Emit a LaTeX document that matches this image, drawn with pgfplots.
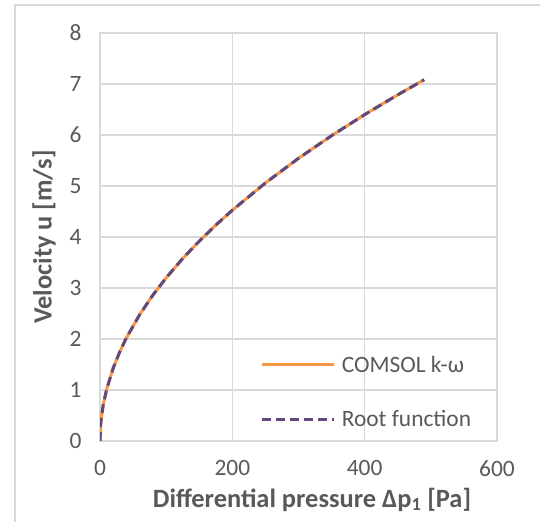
\documentclass[border=0pt]{standalone}
\usepackage{fontspec}
\setmainfont{Carlito}
\usepackage{pgfplots}
\pgfplotsset{compat=1.18}
\definecolor{gridgray}{HTML}{D9D9D9}
\definecolor{txtgray}{HTML}{595959}
\definecolor{orng}{HTML}{F79646}
\definecolor{purp}{HTML}{604A7B}
\begin{document}
\begin{tikzpicture}
\useasboundingbox (0bp,0bp) rectangle (540bp,522bp);
\draw[gridgray, line width=1.5bp] (15bp,-5bp) -- (15bp,517bp) -- (545bp,517bp);
\begin{axis}[
  at={(100bp,81bp)}, anchor=south west,
  scale only axis, width=397bp, height=408bp,
  xmin=0, xmax=600, ymin=0, ymax=8,
  xtick={0,200,400,600}, ytick={0,1,...,8},
  grid=major,
  major grid style={gridgray, line width=1.2bp},
  axis line style={gridgray, line width=1.2bp},
  tick style={draw=none},
  /pgf/number format/assume math mode=true,
  tick label style={font=\fontsize{23.5}{27}\selectfont, text=txtgray},
  xticklabel style={yshift=-16bp},
  yticklabel style={xshift=-15bp},
  xlabel={Differential pressure Δp\textsubscript{1} [Pa]},
  ylabel={Velocity u [m/s]},
  label style={font=\bfseries\fontsize{26.5}{30}\selectfont, text=txtgray},
  xlabel style={at={(axis description cs:0.534,-0.162)}, anchor=base},
  ylabel style={at={(axis description cs:-0.141,0.5)}, anchor=center, rotate=0},
  legend cell align=left,
  legend style={draw=none, fill=none, font=\fontsize{23.5}{27}\selectfont, text=txtgray,
    at={(axis description cs:0.397,0.219)}, anchor=north west, row sep=33bp,
    /tikz/every odd column/.append style={column sep=4bp}},
  legend image code/.code={\draw[#1] (0bp,0bp) -- (72bp,0bp);},
]
\addplot[orng, line width=3bp] coordinates {
(0,0) (1,0.32) (2,0.453) (5,0.716) (10,1.012) (20,1.431) (30,1.753) (40,2.024)
(60,2.479) (80,2.862) (100,3.2) (125,3.578) (150,3.919) (175,4.233) (200,4.525)
(250,5.06) (300,5.543) (350,5.987) (400,6.4) (450,6.788) (490,7.084)};
\addlegendentry{COMSOL k-ω}
\addplot[purp, line width=3bp, dash pattern=on 9bp off 5bp] coordinates {
(0,0) (1,0.32) (2,0.453) (5,0.716) (10,1.012) (20,1.431) (30,1.753) (40,2.024)
(60,2.479) (80,2.862) (100,3.2) (125,3.578) (150,3.919) (175,4.233) (200,4.525)
(250,5.06) (300,5.543) (350,5.987) (400,6.4) (450,6.788) (490,7.084)};
\addlegendentry{Root function}
\end{axis}
\end{tikzpicture}
\end{document}
